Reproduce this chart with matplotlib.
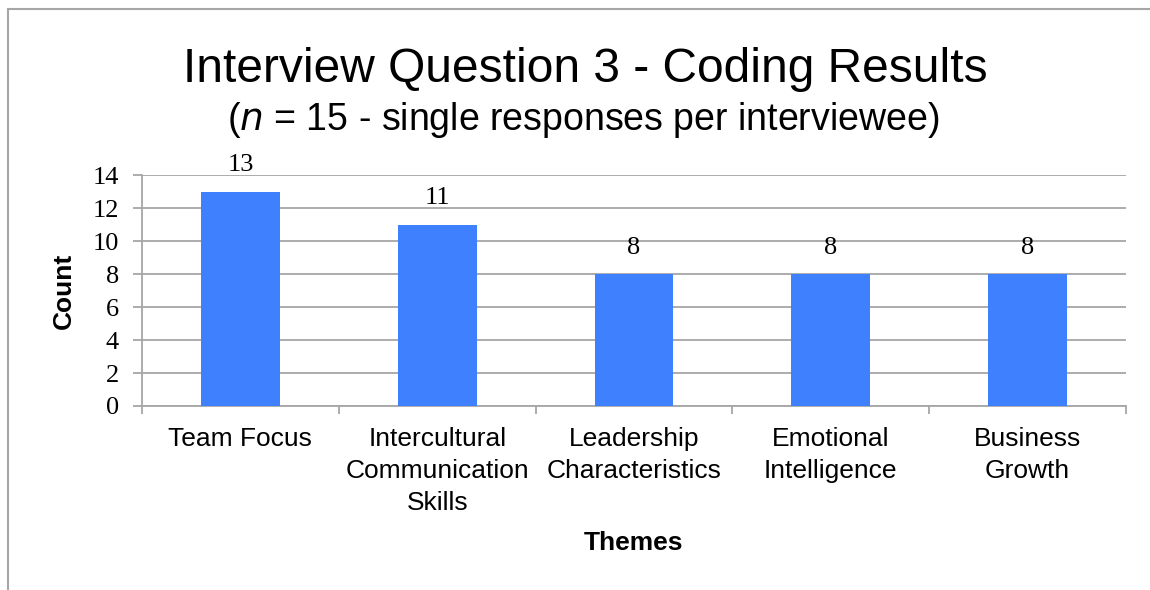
import matplotlib.pyplot as plt
import numpy as np
from matplotlib.lines import Line2D

themes = ['Team Focus', 'Intercultural\nCommunication\nSkills', 'Leadership\nCharacteristics',
          'Emotional\nIntelligence', 'Business\nGrowth']
counts = [13, 11, 8, 8, 8]
yticks = [0, 2, 4, 6, 8, 10, 12, 14]

grey = '#A6A6A6'
bar_colour = '#3F80FF'

fig = plt.figure(figsize=(11.5, 5.9), dpi=100)
ax = fig.add_axes([142/1150, 1-406/590, (1126-142)/1150, (406-175)/590])

x = np.arange(len(themes))
bars = ax.bar(x, counts, width=0.4, color=bar_colour, zorder=3)

for xi, c in zip(x, counts):
    ax.annotate(str(c), (xi, c), xytext=(0, 11), textcoords='offset points',
                ha='center', va='bottom', fontsize=19, family='Liberation Serif')

ax.set_xlim(-0.5, len(themes)-0.5)
ax.set_ylim(0, 14)
ax.set_yticks(yticks)
ax.set_yticklabels([str(t) for t in yticks], family='Liberation Serif', fontsize=19)
ax.yaxis.grid(True, color=grey, lw=1.3, zorder=0)
ax.tick_params(axis='y', length=6.5, width=1.3, color=grey, pad=10)

ax.set_xticks(x)
ax.set_xticklabels(themes, family='Liberation Sans', fontsize=19, linespacing=1.42, va='top')
ax.set_xticks(np.arange(-0.5, len(themes)), minor=True)
ax.tick_params(axis='x', which='major', length=0, pad=15)
ax.tick_params(axis='x', which='minor', length=6, width=1.3, color=grey)

for s in ['top', 'right']:
    ax.spines[s].set_visible(False)
for s in ['left', 'bottom']:
    ax.spines[s].set_color(grey)
    ax.spines[s].set_linewidth(1.3)

ax.set_ylabel('Count', family='Liberation Sans', fontsize=19, fontweight='bold', labelpad=12)
fig.text(634/1150, 1-543/590, 'Themes', family='Liberation Sans', fontsize=19,
         fontweight='bold', ha='center', va='center')

fig.text(585/1150, 1-70/590, 'Interview Question 3 - Coding Results', family='Liberation Sans',
         fontsize=34.5, ha='center', va='center')
fig.text(583/1150, 1-120/590, r'($\it{n}$ = 15 - single responses per interviewee)',
         family='Liberation Sans', fontsize=27, ha='center', va='center')

# outer frame (left and top edges visible)
fig.add_artist(Line2D([8/1150, 8/1150], [0, 1-9/590], color=grey, lw=1.5, transform=fig.transFigure))
fig.add_artist(Line2D([8/1150, 1], [1-9/590, 1-9/590], color=grey, lw=1.5, transform=fig.transFigure))

fig.savefig('out.png', dpi=100)
